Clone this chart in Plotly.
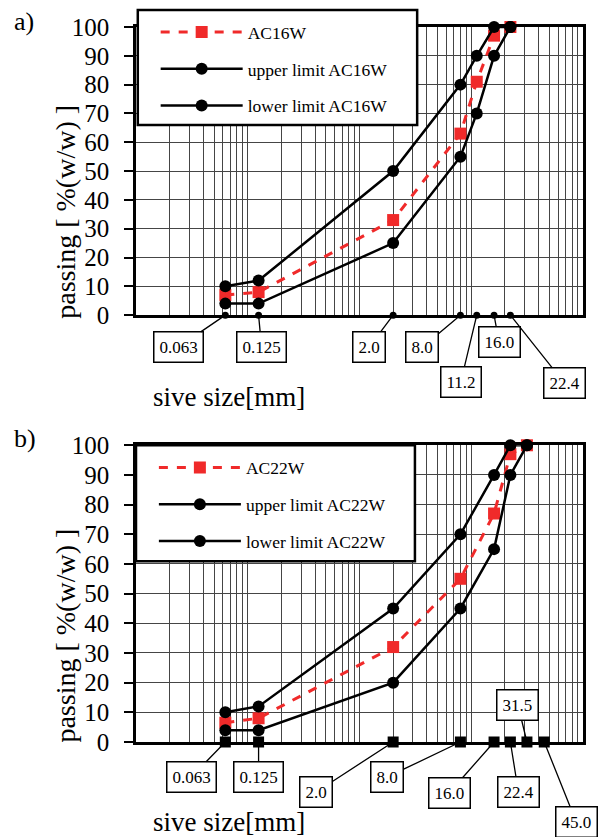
import math
import plotly.graph_objects as go

# ---------------- data ----------------
sieves_a = [0.063, 0.125, 2.0, 8.0, 11.2, 16.0, 22.4]
ac16w = [7, 8, 33, 63, 81, 97, 100]
upper_a = [10, 12, 50, 80, 90, 100, 100]
lower_a = [4, 4, 25, 55, 70, 90, 100]
labels_a = ["0.063", "0.125", "2.0", "8.0", "11.2", "16.0", "22.4"]

sieves_b = [0.063, 0.125, 2.0, 8.0, 16.0, 22.4, 31.5, 45.0]
curve_sieves_b = [0.063, 0.125, 2.0, 8.0, 16.0, 22.4, 31.5]
ac22w = [6.5, 8, 32, 55, 77, 97, 100]
upper_b = [10, 12, 45, 70, 90, 100, 100]
lower_b = [4, 4, 20, 45, 65, 90, 100]
labels_b = ["0.063", "0.125", "2.0", "8.0", "16.0", "22.4", "31.5", "45.0"]

# label-box offsets (pixels) relative to each sieve point on the x-axis
off_a = [(-47, 32), (3, 32), (-24, 32), (-38, 32), (-16, 67), (5, 27), (54, 68)]
off_b = [(-34, 35), (0, 35), (-77, 50), (-73, 35), (-45, 51), (8, 50), (-9, -37), (32, 80)]

SERIF = "Liberation Serif"
RED = "#f02a2a"

fig = go.Figure()


def add_panel(xs, axis_xs, mix, up, lo, name, xa, ya, leg, axis_symbol, axis_size):
    fig.add_trace(go.Scatter(
        x=xs, y=mix, name=name, mode="lines+markers",
        line=dict(color=RED, width=3, dash="dash"),
        marker=dict(symbol="square", size=12, color=RED),
        xaxis=xa, yaxis=ya, legend=leg, legendgroup=name + "m", cliponaxis=False))
    fig.add_trace(go.Scatter(
        x=xs, y=up, name="upper limit " + name, mode="lines+markers",
        line=dict(color="black", width=2.5),
        marker=dict(symbol="circle", size=12, color="black"),
        xaxis=xa, yaxis=ya, legend=leg, legendgroup=name + "u", cliponaxis=False))
    fig.add_trace(go.Scatter(
        x=xs, y=lo, name="lower limit " + name, mode="lines+markers",
        line=dict(color="black", width=2.5),
        marker=dict(symbol="circle", size=12, color="black"),
        xaxis=xa, yaxis=ya, legend=leg, legendgroup=name + "l", cliponaxis=False))
    fig.add_trace(go.Scatter(
        x=axis_xs, y=[0] * len(axis_xs), mode="markers", showlegend=False,
        marker=dict(symbol=axis_symbol, size=axis_size, color="black"),
        xaxis=xa, yaxis=ya, cliponaxis=False, hoverinfo="skip"))


add_panel(sieves_a, sieves_a, ac16w, upper_a, lower_a, "AC16W", "x", "y", "legend", "circle", 7)
add_panel(curve_sieves_b, sieves_b, ac22w, upper_b, lower_b, "AC22W", "x2", "y2", "legend2", "square", 11)

xaxis_common = dict(
    type="log", range=[-2, 2], dtick="D1", showticklabels=False,
    showgrid=True, gridcolor="#454545", gridwidth=1, ticks="",
    showline=True, linecolor="black", linewidth=2.5, mirror=True, zeroline=False,
)
yaxis_common = dict(
    range=[0, 100], dtick=10, showgrid=True, gridcolor="#454545", gridwidth=1,
    ticks="outside", ticklen=9, tickwidth=1.5, tickcolor="black",
    tickfont=dict(family=SERIF, size=25, color="black"),
    showline=True, linecolor="black", linewidth=2.5, mirror=True, zeroline=False,
    ticklabelstandoff=10,
)

legend_common = dict(xanchor="left", yanchor="top",
                     bgcolor="rgba(0,0,0,0)", borderwidth=0,
                     font=dict(family=SERIF, size=17.5, color="black"),
                     tracegroupgap=11, traceorder="grouped", itemwidth=82)

fig.update_layout(
    width=599, height=837,
    margin=dict(l=136, r=16, t=27, b=95),
    paper_bgcolor="white", plot_bgcolor="white",
    xaxis=dict(domain=[0, 1], anchor="y", **xaxis_common),
    yaxis=dict(domain=[0.597, 1], anchor="x", **yaxis_common),
    xaxis2=dict(domain=[0, 1], anchor="y2", **xaxis_common),
    yaxis2=dict(domain=[0, 0.415], anchor="x2", **yaxis_common),
    legend=dict(x=0.044, y=1.018, **legend_common),
    legend2=dict(x=0.04, y=0.409, **legend_common),
    showlegend=True,
)

# legend frames
fig.add_shape(type="rect", xref="x domain", yref="y domain",
              x0=0.004, x1=0.629, y0=0.66, y1=1.059,
              fillcolor="white", line=dict(color="black", width=2.5), layer="above")
fig.add_shape(type="rect", xref="x2 domain", yref="y2 domain",
              x0=0.0, x1=0.624, y0=0.609, y1=1.0,
              fillcolor="white", line=dict(color="black", width=2.5), layer="above")

# sieve-size label boxes
for xs, labs, offs, xr, yr in [(sieves_a, labels_a, off_a, "x", "y"),
                               (sieves_b, labels_b, off_b, "x2", "y2")]:
    for v, lab, (ax, ay) in zip(xs, labs, offs):
        fig.add_annotation(
            x=math.log10(v), y=0, xref=xr, yref=yr, text=lab,
            showarrow=True, arrowhead=0, arrowwidth=1.3, arrowcolor="black",
            ax=ax, ay=ay, axref="pixel", ayref="pixel",
            font=dict(family=SERIF, size=17, color="black"),
            bgcolor="white", bordercolor="black", borderwidth=1.5, borderpad=5,
        )

# panel letters, axis titles
for txt, yy in [("a)", 1.008), ("b)", 0.425)]:
    fig.add_annotation(text=txt, xref="paper", yref="paper", x=-0.277, y=yy,
                       xanchor="left", yanchor="middle", showarrow=False,
                       font=dict(family=SERIF, size=26, color="black"))

for yr in ["y domain", "y2 domain"]:
    fig.add_annotation(text="passing [ %(w/w) ]", xref="paper", yref=yr,
                       x=-0.158, y=0.36, xanchor="center", yanchor="middle",
                       textangle=-90, showarrow=False,
                       font=dict(family=SERIF, size=28, color="black"))

for yr, yy in [("y domain", -0.285), ("y2 domain", -0.27)]:
    fig.add_annotation(text="sive size[mm]", xref="paper", yref=yr,
                       x=0.034, y=yy, xanchor="left", yanchor="middle",
                       showarrow=False,
                       font=dict(family=SERIF, size=27, color="black"))

fig.write_html("out.html")
